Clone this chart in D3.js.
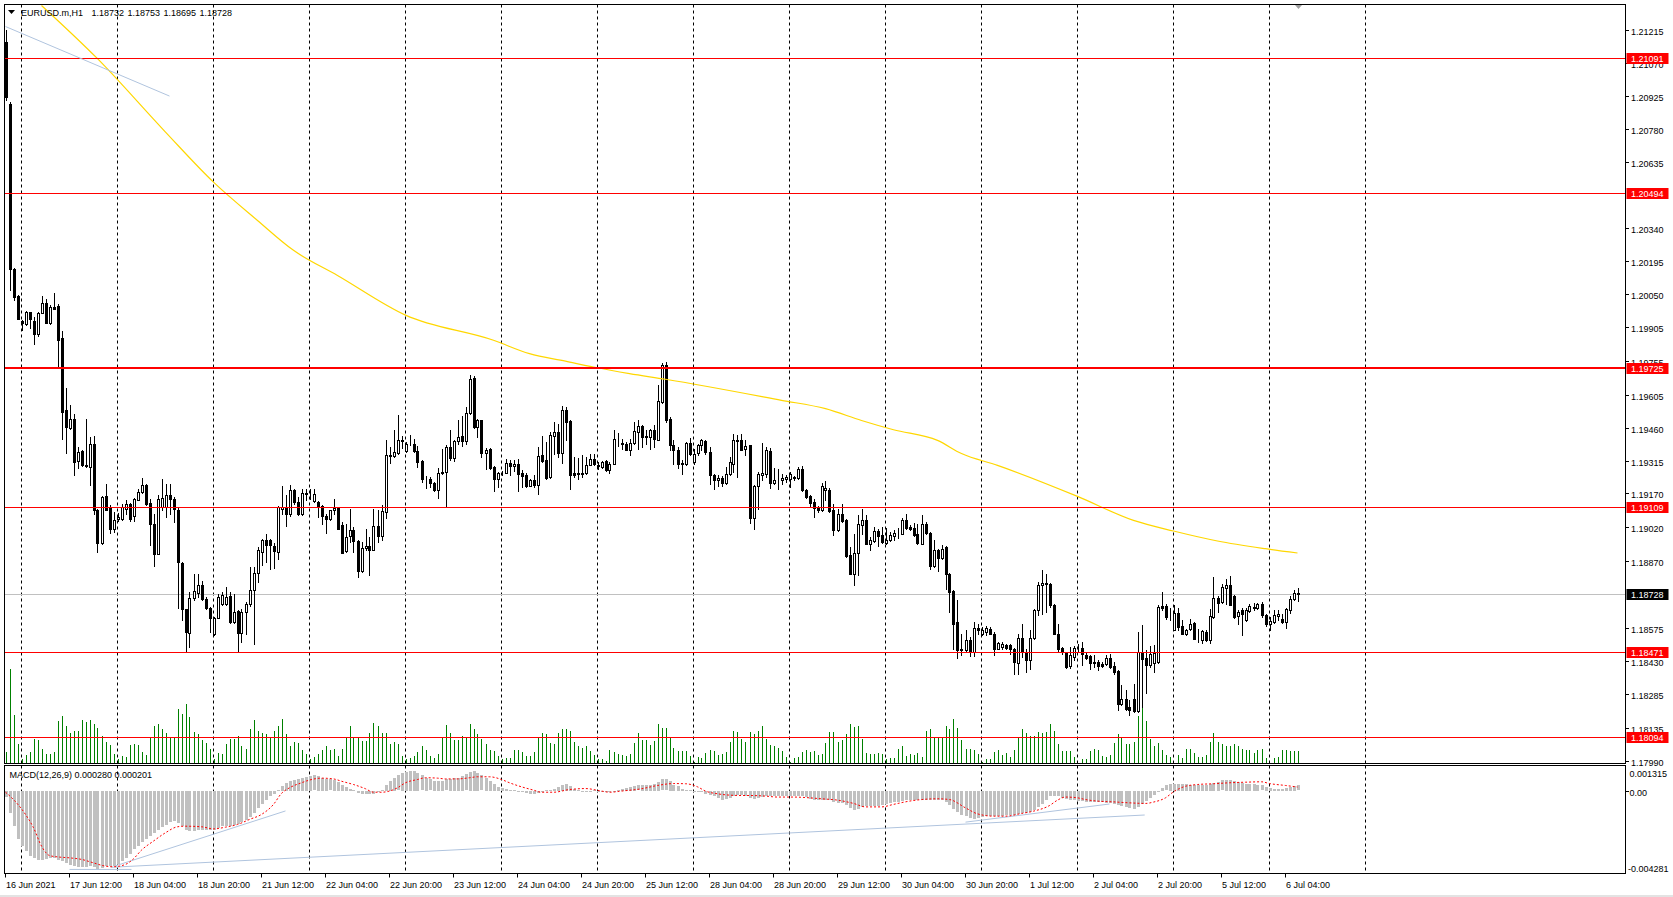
<!DOCTYPE html>
<html><head><meta charset="utf-8">
<script src="https://cdn.jsdelivr.net/npm/d3@7"></script>
<style>
html,body{margin:0;padding:0;background:#fff;overflow:hidden}
svg{display:block}
text{font-family:"Liberation Sans",Arial,sans-serif;font-size:9px;fill:#000}
</style></head><body>
<svg id="c" width="1673" height="897"></svg>
<script>
// ---------------- DATA ----------------
const symbolTitle = "EURUSD.m,H1";
const lastOHLC = ["1.18732","1.18753","1.18695","1.18728"];
const macdTitle = "MACD(12,26,9) 0.000280 0.000201";

const open = [
1.21161,1.20890,1.20159,1.20040,1.19930,1.19919,1.19969,1.19931,1.19872,1.19968,
1.20012,1.19924,1.19993,1.19999,1.19855,1.19537,1.19460,1.19500,1.19313,1.19356,
1.19297,1.19287,1.19390,1.19098,1.18951,1.19157,1.19110,1.19015,1.19058,1.19058,
1.19103,1.19122,1.19070,1.19143,1.19176,1.19209,1.19128,1.19037,1.18904,1.19110,
1.19110,1.19161,1.19147,1.19098,1.18865,1.18662,1.18556,1.18708,1.18731,1.18768,
1.18705,1.18664,1.18551,1.18622,1.18680,1.18680,1.18716,1.18603,1.18651,1.18556,
1.18647,1.18680,1.18742,1.18819,1.18912,1.18966,1.18963,1.18937,1.18912,1.19103,
1.19106,1.19081,1.19184,1.19132,1.19081,1.19169,1.19164,1.19137,1.19132,1.19115,
1.19070,1.19058,1.19096,1.19106,1.19030,1.18916,1.18981,1.19010,1.18959,1.18828,
1.18927,1.18937,1.18922,1.19025,1.18981,1.19088,1.19336,1.19336,1.19349,1.19402,
1.19358,1.19387,1.19387,1.19356,1.19312,1.19238,1.19235,1.19218,1.19184,1.19265,
1.19265,1.19375,1.19327,1.19402,1.19422,1.19402,1.19527,1.19681,1.19464,1.19493,
1.19349,1.19366,1.19287,1.19235,1.19258,1.19261,1.19306,1.19291,1.19302,1.19258,
1.19253,1.19203,1.19231,1.19206,1.19338,1.19316,1.19243,1.19424,1.19441,1.19349,
1.19540,1.19489,1.19258,1.19255,1.19262,1.19258,1.19297,1.19321,1.19297,1.19287,
1.19312,1.19272,1.19302,1.19410,1.19393,1.19390,1.19361,1.19394,1.19441,1.19466,
1.19424,1.19419,1.19452,1.19408,1.19574,1.19736,1.19500,1.19385,1.19363,1.19304,
1.19299,1.19394,1.19309,1.19349,1.19385,1.19402,1.19353,1.19253,1.19231,1.19240,
1.19216,1.19254,1.19301,1.19402,1.19407,1.19368,1.19382,1.19062,1.19201,1.19250,
1.19257,1.19357,1.19218,1.19228,1.19228,1.19232,1.19235,1.19241,1.19240,1.19279,
1.19187,1.19157,1.19132,1.19107,1.19096,1.19187,1.19187,1.19096,1.19007,1.19081,
1.19054,1.18897,1.18816,1.18907,1.19029,1.19051,1.18948,1.18959,1.19003,1.18988,
1.18951,1.18963,1.18981,1.18991,1.18993,1.19054,1.19022,1.19018,1.18993,1.18948,
1.19037,1.18997,1.18850,1.18919,1.18887,1.18934,1.18816,1.18738,1.18603,1.18481,
1.18478,1.18525,1.18470,1.18576,1.18551,1.18559,1.18573,1.18551,1.18485,1.18492,
1.18501,1.18499,1.18485,1.18421,1.18532,1.18470,1.18436,1.18533,1.18654,1.18764,
1.18774,1.18772,1.18676,1.18551,1.18488,1.18466,1.18407,1.18448,1.18487,1.18489,
1.18455,1.18451,1.18424,1.18426,1.18418,1.18416,1.18443,1.18407,1.18385,1.18239,
1.18264,1.18227,1.18264,1.18210,1.18470,1.18443,1.18411,1.18421,1.18426,1.18672,
1.18672,1.18639,1.18568,1.18642,1.18583,1.18551,1.18573,1.18598,1.18529,1.18524,
1.18558,1.18521,1.18624,1.18710,1.18691,1.18754,1.18764,1.18716,1.18627,1.18654,
1.18610,1.18651,1.18666,1.18666,1.18683,1.18632,1.18592,1.18602,1.18627,1.18617,
1.18602,1.18657,1.18705,1.18732];

const high = [
1.21214,1.20900,1.20165,1.20045,1.19935,1.19975,1.19972,1.19949,1.19969,1.20040,
1.20027,1.20000,1.20053,1.20008,1.19885,1.19637,1.19559,1.19522,1.19375,1.19360,
1.19500,1.19419,1.19422,1.19103,1.19157,1.19213,1.19118,1.19088,1.19084,1.19125,
1.19143,1.19128,1.19151,1.19191,1.19240,1.19213,1.19146,1.19081,1.19162,1.19235,
1.19213,1.19213,1.19154,1.19110,1.18868,1.18662,1.18735,1.18816,1.18813,1.18782,
1.18713,1.18669,1.18625,1.18727,1.18735,1.18757,1.18735,1.18727,1.18654,1.18662,
1.18691,1.18845,1.18845,1.18934,1.18970,1.18990,1.18969,1.18949,1.19113,1.19201,
1.19162,1.19206,1.19191,1.19154,1.19191,1.19191,1.19191,1.19191,1.19137,1.19118,
1.19081,1.19098,1.19147,1.19111,1.19044,1.19037,1.19103,1.19022,1.18963,1.18956,
1.19015,1.18978,1.19103,1.19096,1.19118,1.19405,1.19375,1.19452,1.19515,1.19422,
1.19397,1.19427,1.19412,1.19378,1.19316,1.19246,1.19243,1.19221,1.19284,1.19368,
1.19383,1.19452,1.19408,1.19493,1.19511,1.19552,1.19692,1.19687,1.19500,1.19496,
1.19372,1.19371,1.19290,1.19265,1.19267,1.19324,1.19316,1.19316,1.19324,1.19272,
1.19258,1.19235,1.19250,1.19375,1.19422,1.19397,1.19441,1.19486,1.19478,1.19555,
1.19552,1.19493,1.19331,1.19328,1.19338,1.19331,1.19346,1.19346,1.19309,1.19313,
1.19316,1.19309,1.19449,1.19437,1.19412,1.19397,1.19412,1.19486,1.19496,1.19471,
1.19452,1.19456,1.19471,1.19647,1.19746,1.19748,1.19507,1.19404,1.19375,1.19316,
1.19397,1.19416,1.19368,1.19390,1.19412,1.19404,1.19375,1.19257,1.19250,1.19246,
1.19287,1.19331,1.19434,1.19427,1.19431,1.19407,1.19385,1.19206,1.19265,1.19393,
1.19375,1.19372,1.19284,1.19279,1.19254,1.19250,1.19265,1.19249,1.19287,1.19290,
1.19191,1.19162,1.19147,1.19113,1.19216,1.19225,1.19196,1.19125,1.19103,1.19125,
1.19059,1.18934,1.18993,1.19073,1.19103,1.19073,1.18978,1.19022,1.19015,1.19022,
1.19019,1.19000,1.19007,1.19018,1.19063,1.19081,1.19029,1.19040,1.19034,1.19073,
1.19044,1.19000,1.18963,1.18926,1.18941,1.18937,1.18819,1.18743,1.18698,1.18551,
1.18566,1.18537,1.18603,1.18595,1.18581,1.18584,1.18581,1.18559,1.18514,1.18514,
1.18507,1.18504,1.18488,1.18551,1.18595,1.18485,1.18566,1.18661,1.18779,1.18833,
1.18816,1.18775,1.18683,1.18592,1.18492,1.18470,1.18492,1.18495,1.18507,1.18514,
1.18466,1.18455,1.18455,1.18433,1.18426,1.18455,1.18463,1.18426,1.18389,1.18323,
1.18301,1.18260,1.18330,1.18558,1.18588,1.18477,1.18495,1.18499,1.18676,1.18735,
1.18683,1.18666,1.18676,1.18666,1.18613,1.18573,1.18617,1.18602,1.18573,1.18569,
1.18566,1.18661,1.18801,1.18716,1.18772,1.18794,1.18804,1.18720,1.18654,1.18666,
1.18666,1.18683,1.18686,1.18686,1.18691,1.18636,1.18624,1.18657,1.18654,1.18639,
1.18666,1.18716,1.18745,1.18753];

const low = [
1.20905,1.20069,1.20025,1.19938,1.19890,1.19915,1.19902,1.19828,1.19864,1.19966,
1.19921,1.19917,1.19983,1.19728,1.19412,1.19350,1.19456,1.19250,1.19282,1.19290,
1.19287,1.19206,1.19081,1.18911,1.18948,1.19096,1.18995,1.19000,1.19048,1.19054,
1.19081,1.19048,1.19048,1.19140,1.19172,1.19118,1.18941,1.18848,1.18901,1.19096,
1.19066,1.19081,1.19044,1.18666,1.18610,1.18470,1.18492,1.18701,1.18713,1.18699,
1.18659,1.18558,1.18544,1.18618,1.18676,1.18676,1.18596,1.18596,1.18470,1.18514,
1.18551,1.18673,1.18507,1.18779,1.18852,1.18868,1.18838,1.18841,1.18882,1.19081,
1.19027,1.19069,1.19125,1.19074,1.19077,1.19143,1.19147,1.19132,1.19066,1.19034,
1.18995,1.19054,1.19081,1.19012,1.18905,1.18912,1.18956,1.18912,1.18802,1.18824,
1.18919,1.18809,1.18919,1.18956,1.18963,1.19063,1.19305,1.19331,1.19346,1.19372,
1.19353,1.19383,1.19353,1.19287,1.19221,1.19196,1.19199,1.19181,1.19152,1.19255,
1.19111,1.19319,1.19313,1.19387,1.19378,1.19390,1.19522,1.19461,1.19419,1.19331,
1.19280,1.19280,1.19181,1.19199,1.19252,1.19258,1.19250,1.19269,1.19181,1.19199,
1.19199,1.19202,1.19199,1.19166,1.19309,1.19235,1.19240,1.19346,1.19331,1.19305,
1.19405,1.19191,1.19243,1.19235,1.19243,1.19255,1.19294,1.19294,1.19280,1.19284,
1.19269,1.19258,1.19299,1.19378,1.19368,1.19361,1.19338,1.19390,1.19368,1.19375,
1.19390,1.19368,1.19375,1.19405,1.19569,1.19485,1.19360,1.19301,1.19282,1.19254,
1.19294,1.19341,1.19301,1.19341,1.19360,1.19346,1.19213,1.19191,1.19202,1.19202,
1.19210,1.19250,1.19265,1.19243,1.19360,1.19338,1.19040,1.19015,1.19103,1.19228,
1.19243,1.19196,1.19213,1.19191,1.19210,1.19221,1.19199,1.19231,1.19235,1.19181,
1.19150,1.19113,1.19066,1.19088,1.19093,1.19140,1.19088,1.18985,1.19004,1.19044,
1.18890,1.18813,1.18768,1.18809,1.18993,1.18945,1.18922,1.18956,1.18937,1.18951,
1.18948,1.18960,1.18963,1.18975,1.18990,1.19015,1.19007,1.18981,1.18945,1.18945,
1.18993,1.18838,1.18845,1.18828,1.18882,1.18750,1.18647,1.18485,1.18445,1.18456,
1.18475,1.18451,1.18451,1.18551,1.18544,1.18544,1.18548,1.18456,1.18482,1.18485,
1.18482,1.18463,1.18374,1.18371,1.18448,1.18382,1.18396,1.18529,1.18635,1.18636,
1.18646,1.18669,1.18548,1.18474,1.18463,1.18401,1.18401,1.18433,1.18470,1.18411,
1.18441,1.18396,1.18404,1.18392,1.18404,1.18411,1.18401,1.18374,1.18213,1.18235,
1.18215,1.18193,1.18205,1.18205,1.18227,1.18289,1.18404,1.18382,1.18421,1.18657,
1.18617,1.18610,1.18566,1.18566,1.18548,1.18543,1.18569,1.18526,1.18514,1.18510,
1.18518,1.18510,1.18621,1.18646,1.18686,1.18683,1.18676,1.18621,1.18592,1.18544,
1.18607,1.18646,1.18657,1.18661,1.18624,1.18583,1.18566,1.18598,1.18610,1.18598,
1.18577,1.18642,1.18701,1.18695];

const close = [
1.20919,1.20162,1.20037,1.19941,1.19921,1.19970,1.19941,1.19875,1.19968,1.20012,
1.19924,1.19993,1.19986,1.19849,1.19529,1.19463,1.19500,1.19309,1.19353,1.19294,
1.19293,1.19386,1.19098,1.18951,1.19154,1.19098,1.19015,1.19051,1.19066,1.19110,
1.19122,1.19058,1.19147,1.19176,1.19209,1.19125,1.19037,1.18901,1.19147,1.19151,
1.19161,1.19147,1.19103,1.18868,1.18662,1.18558,1.18708,1.18738,1.18768,1.18705,
1.18664,1.18622,1.18622,1.18713,1.18720,1.18713,1.18603,1.18647,1.18556,1.18647,
1.18680,1.18742,1.18819,1.18919,1.18966,1.18941,1.18941,1.18915,1.19110,1.19110,
1.19081,1.19184,1.19132,1.19081,1.19172,1.19172,1.19162,1.19169,1.19113,1.19069,
1.19058,1.19096,1.19107,1.19015,1.18909,1.18978,1.19010,1.18960,1.18828,1.18927,
1.18937,1.18919,1.19025,1.18981,1.19091,1.19338,1.19341,1.19352,1.19405,1.19408,
1.19387,1.19390,1.19358,1.19309,1.19235,1.19237,1.19216,1.19184,1.19258,1.19261,
1.19375,1.19327,1.19400,1.19419,1.19402,1.19527,1.19677,1.19464,1.19493,1.19349,
1.19363,1.19283,1.19235,1.19258,1.19261,1.19306,1.19291,1.19302,1.19255,1.19247,
1.19203,1.19231,1.19206,1.19334,1.19313,1.19240,1.19427,1.19441,1.19349,1.19537,
1.19486,1.19250,1.19250,1.19261,1.19255,1.19297,1.19321,1.19302,1.19290,1.19309,
1.19272,1.19302,1.19412,1.19409,1.19390,1.19363,1.19394,1.19444,1.19466,1.19419,
1.19421,1.19449,1.19412,1.19577,1.19736,1.19493,1.19382,1.19360,1.19301,1.19299,
1.19394,1.19346,1.19346,1.19382,1.19404,1.19353,1.19253,1.19231,1.19240,1.19216,
1.19254,1.19309,1.19407,1.19407,1.19363,1.19378,1.19062,1.19201,1.19254,1.19260,
1.19360,1.19218,1.19231,1.19229,1.19240,1.19241,1.19257,1.19238,1.19279,1.19184,
1.19154,1.19128,1.19107,1.19098,1.19201,1.19196,1.19093,1.19007,1.19081,1.19048,
1.18893,1.18816,1.18907,1.19037,1.19051,1.18948,1.18963,1.19003,1.18981,1.18956,
1.18963,1.18985,1.18996,1.18993,1.19054,1.19019,1.19015,1.18985,1.18951,1.19037,
1.18997,1.18850,1.18919,1.18887,1.18926,1.18816,1.18735,1.18595,1.18478,1.18484,
1.18522,1.18470,1.18578,1.18569,1.18566,1.18576,1.18551,1.18485,1.18510,1.18507,
1.18486,1.18485,1.18426,1.18533,1.18470,1.18436,1.18533,1.18657,1.18764,1.18776,
1.18769,1.18676,1.18551,1.18485,1.18470,1.18404,1.18455,1.18489,1.18489,1.18460,
1.18445,1.18421,1.18421,1.18408,1.18408,1.18443,1.18404,1.18382,1.18239,1.18264,
1.18220,1.18215,1.18210,1.18470,1.18441,1.18411,1.18463,1.18466,1.18669,1.18666,
1.18624,1.18638,1.18642,1.18580,1.18551,1.18566,1.18595,1.18529,1.18526,1.18561,
1.18521,1.18627,1.18710,1.18686,1.18757,1.18764,1.18676,1.18624,1.18646,1.18636,
1.18654,1.18672,1.18670,1.18683,1.18632,1.18592,1.18607,1.18632,1.18636,1.18602,
1.18661,1.18705,1.18730,1.18728];

// tick volume
const volume = [
1200,9500,4900,2000,400,900,1200,2500,2400,1500,
1000,1000,1200,4300,4800,3800,3100,3300,3300,4400,
4200,4400,4000,3600,2800,2200,1900,1000,400,800,
600,1900,2000,1900,1200,900,2600,3800,4000,3400,
3100,2600,2600,5500,5000,6000,4700,3200,2900,2400,
2100,1500,400,1100,1000,2000,2500,2500,2800,1700,
1500,3500,4400,3300,3000,2900,2700,3300,3800,4500,
2900,1800,2200,2100,1400,1000,400,700,1000,1400,
1800,1400,1500,800,1500,2700,3800,2700,2600,2300,
2300,3000,4100,3800,3000,3000,2000,2200,2000,800,
400,500,800,1200,1800,1400,800,500,1000,2600,
3900,3000,2400,2400,2800,2600,4000,3500,2900,2500,
2000,1400,1300,800,400,500,500,1400,1400,1200,
800,800,1200,2600,3000,2900,2100,2000,3000,3500,
3400,3300,2200,1800,1600,1700,1300,900,400,400,
300,1400,1200,1000,900,800,1000,2100,3100,2400,
2400,1900,2300,4000,3600,3600,2600,1600,1300,1300,
1300,800,200,600,500,1100,1400,1300,900,1000,
1200,2200,3300,3200,2500,2200,3200,2900,3300,3800,
2500,1900,1700,1600,1300,600,200,500,600,1200,
1400,1200,1300,900,1000,2100,3200,3200,2200,2400,
2900,4000,3700,3800,2500,1100,1000,1000,1100,1000,
400,500,500,1500,1700,800,1000,900,1100,700,
3300,3400,2700,2600,2600,3800,3500,4500,3600,2400,
1500,1500,1400,1000,200,400,400,1200,1400,900,
1100,600,1400,2600,3400,3000,2800,2800,3200,3000,
3200,4000,3300,2000,1300,1300,1300,600,100,400,
400,1300,1500,1400,800,700,900,2100,2900,2600,
2000,2000,2200,4800,5600,4300,2500,1700,2100,1400,
900,700,100,900,500,1500,1500,1100,600,600,
900,2200,3000,2200,2000,1800,1800,2000,1800,1500,
1400,1400,1100,1400,1500,500,100,500,600,1400,
1400,1300,1300,1300];

// MACD main (histogram), in units of 0.00001
const macdMainE5 = [
-30,-114,-183,-248,-286,-312,-335,-347,-355,-355,
-352,-347,-347,-355,-364,-373,-381,-390,-393,-393,
-393,-390,-393,-404,-399,-390,-390,-387,-376,-364,
-347,-324,-300,-283,-266,-248,-231,-217,-200,-186,
-174,-162,-157,-165,-183,-200,-209,-209,-203,-200,
-200,-200,-200,-191,-183,-179,-179,-174,-169,-162,
-152,-134,-114,-88,-65,-45,-27,-13,7,25,
42,50,56,62,68,73,76,80,76,68,
62,59,56,45,33,21,11,4,-10,-13,
-15,-15,-13,-7,4,33,50,68,80,94,
97,102,102,94,80,68,59,50,50,50,
59,62,68,68,76,85,97,102,94,80,
68,50,37,21,16,11,7,4,-1,-7,
-10,-13,-15,-10,-1,4,7,11,21,33,
38,24,11,4,-1,-1,-1,4,-1,-6,
-6,-6,-1,7,11,16,21,24,28,31,
33,33,38,45,59,59,50,33,24,11,
7,7,-1,-7,-7,-13,-19,-27,-36,-45,
-41,-36,-27,-19,-19,-24,-36,-41,-36,-31,
-27,-27,-27,-27,-27,-27,-27,-24,-24,-27,
-32,-41,-48,-48,-45,-45,-48,-58,-62,-62,
-71,-88,-96,-93,-83,-79,-79,-76,-76,-71,
-65,-62,-58,-58,-53,-48,-45,-45,-45,-45,
-45,-45,-48,-48,-45,-58,-71,-93,-110,-122,
-131,-140,-145,-140,-134,-131,-131,-127,-127,-127,
-124,-122,-122,-117,-114,-114,-110,-96,-83,-65,
-45,-27,-24,-27,-36,-41,-45,-48,-53,-53,
-58,-58,-58,-58,-58,-62,-62,-65,-70,-76,
-83,-88,-93,-83,-65,-53,-36,-19,-1,16,
28,37,38,38,37,37,33,33,31,31,
33,37,42,47,54,57,56,50,47,42,
38,37,37,33,28,21,16,11,11,11,
14,19,24,28];

// MACD signal line, read at these bars (units of 0.00001)
const signalIdx = [0,2,5,7,9,11,13,16,19,22,25,27,30,32,34,37,40,43,45,49,52,55,58,61,64,67,69,71,74,76,79,82,84,87,90,92,94,96,98,100,103,105,108,110,113,116,118,121,124,126,129,132,134,137,141,145,149,151,154,159,163,167,170,173,175,178,181,184,186,190,193,197,201,204,208,212,215,219,222,226,229,233,236,240,243,247,250,254,257,261,263,265,268,270,273,277,281,285,287,290,292,295,298,302,306,310,314,316,320,323];
const signalE5 = [-7,-45,-122,-191,-286,-335,-342,-347,-355,-373,-390,-393,-381,-352,-307,-260,-217,-186,-183,-186,-197,-188,-174,-148,-122,-70,-13,16,42,56,66,62,50,33,11,-7,-7,-1,16,42,59,68,66,62,62,68,73,73,59,42,21,4,-7,-7,7,12,-1,-7,-1,11,28,38,37,21,-1,-15,-22,-24,-24,-27,-32,-32,-36,-41,-48,-65,-83,-83,-70,-53,-45,-41,-45,-88,-119,-131,-131,-117,-105,-76,-48,-32,-36,-45,-53,-57,-62,-65,-58,-36,-5,24,33,37,42,45,47,38,28,20];

// Moving average (yellow), read at these bars
const maIdx = [9,23,40,52,63,72,83,100,122,131,140,147,156,165,194,205,214,222,233,239,248,268,282,292,303,315,323];
const maVal = [1.21324,1.21089,1.20765,1.20544,1.20375,1.20243,1.20132,1.19957,1.19846,1.19787,1.19754,1.19728,1.19699,1.19674,1.19581,1.19544,1.19492,1.19451,1.19404,1.19346,1.19294,1.19157,1.19051,1.19004,1.18960,1.18926,1.18907];

// horizontal levels (price)
const levels = [1.21091,1.20494,1.19725,1.19109,1.18471,1.18094];
const currentPrice = 1.18728;

// price axis tick labels
const priceTicks = [1.21215,1.21070,1.20925,1.20780,1.20635,1.20340,1.20195,1.20050,1.19905,1.19755,1.19605,1.19460,1.19315,1.19170,1.19020,1.18870,1.18575,1.18430,1.18285,1.18135,1.17990];
const macdTicks = [0.001315,0.0,-0.004281];
const macdTickLabels = ["0.001315","0.00","-0.004281"];

// time axis
const timeTickIdx = [0,16,32,48,64,80,96,112,128,144,160,176,192,208,224,240,256,272,288,304,320];
const timeTickLabels = ["16 Jun 2021","17 Jun 12:00","18 Jun 04:00","18 Jun 20:00","21 Jun 12:00","22 Jun 04:00","22 Jun 20:00","23 Jun 12:00","24 Jun 04:00","24 Jun 20:00","25 Jun 12:00","28 Jun 04:00","28 Jun 20:00","29 Jun 12:00","30 Jun 04:00","30 Jun 20:00","1 Jul 12:00","2 Jul 04:00","2 Jul 20:00","5 Jul 12:00","6 Jul 04:00"];
// day separators (bar index of 00:00 each trading day)
const dayGridIdx = [4,28,52,76,100,124,148,172,196,220,244,268,292,316,340];

// trend lines [bar, value]
const trendMain = [[[0,1.21231],[41,1.20924]]];
const trendMacd = [
  [[16,-0.00407],[31.5,-0.00407]],
  [[27.4,-0.00389],[70,-0.00104]],
  [[26.3,-0.00396],[284.8,-0.00125]],
  [[240,-0.00162],[276,-0.00068]]
];

// ---------------- DRAW ----------------
const svg = d3.select("#c");
const L = 4.5, R = 1625.5, mTop = 4.5, mBot = 763.5, dTop = 765.5, dBot = 873.5;

const x = d3.scaleLinear().domain([0, 340]).range([5.5, 1365.5]);
const y = d3.scaleLinear().domain([1.17977, 1.21326]).range([763.7, 5]);
const yv = d3.scaleLinear().domain([0, 10000]).range([763.5, 663.5]);
const ym = d3.scaleLinear().domain([-0.004281, 0.001315]).range([873.5, 765.5]);
const px = i => Math.round(x(i));

const defs = svg.append("defs");
defs.append("clipPath").attr("id","clipMain").append("rect").attr("x",L).attr("y",mTop).attr("width",R-L).attr("height",mBot-mTop);
defs.append("clipPath").attr("id","clipMacd").append("rect").attr("x",L).attr("y",dTop).attr("width",R-L).attr("height",dBot-dTop);

const gMain = svg.append("g").attr("clip-path","url(#clipMain)");
const gMacd = svg.append("g").attr("clip-path","url(#clipMacd)");

// day grid (dashed)
dayGridIdx.forEach(d => {
  const gx = Math.floor(x(d)) + 0.5;
  gMain.append("line").attr("x1",gx).attr("x2",gx).attr("y1",mTop).attr("y2",mBot)
    .attr("stroke","#000").attr("stroke-width",1).attr("stroke-dasharray","3,3");
  gMacd.append("line").attr("x1",gx).attr("x2",gx).attr("y1",dTop).attr("y2",dBot)
    .attr("stroke","#000").attr("stroke-width",1).attr("stroke-dasharray","3,3");
});

// volumes
gMain.append("g").selectAll("line").data(volume).join("line")
  .attr("x1",(d,i)=>px(i)+0.5).attr("x2",(d,i)=>px(i)+0.5)
  .attr("y1",yv(0)).attr("y2",d=>Math.round(yv(d)))
  .attr("stroke","#008000").attr("stroke-width",1);

// current price line
gMain.append("line").attr("x1",L).attr("x2",R)
  .attr("y1",Math.round(y(currentPrice))+0.5).attr("y2",Math.round(y(currentPrice))+0.5)
  .attr("stroke","#C0C0C0").attr("stroke-width",1);

// candles
const cg = gMain.append("g");
close.forEach((c, i) => {
  const o = open[i], cx = px(i);
  cg.append("line").attr("x1",cx+0.5).attr("x2",cx+0.5)
    .attr("y1",Math.round(y(high[i]))).attr("y2",Math.round(y(low[i]))+1)
    .attr("stroke","#000").attr("stroke-width",1);
  const top = Math.round(y(Math.max(o,c))) + 0.5;
  const bot = Math.round(y(Math.min(o,c))) + 0.5;
  const bull = c >= o;
  cg.append("rect").attr("x",cx-0.5).attr("y",top).attr("width",2).attr("height",Math.max(bot-top,0))
    .attr("fill", bull ? "#fff" : "#000").attr("stroke","#000").attr("stroke-width",1);
});

// moving average
gMain.append("path")
  .datum(maIdx.map((d,k)=>[d,maVal[k]]))
  .attr("d", d3.line().x(d=>x(d[0])).y(d=>y(d[1])).curve(d3.curveMonotoneX))
  .attr("fill","none").attr("stroke","#FFD700").attr("stroke-width",1.2);

// horizontal levels
levels.forEach(v => {
  const ly = Math.round(y(v)) + (v === 1.19725 ? 0 : 0.5);
  gMain.append("line").attr("x1",L).attr("x2",R).attr("y1",ly).attr("y2",ly)
    .attr("stroke","#FF0000").attr("stroke-width", v === 1.19725 ? 2 : 1);
});

// trend lines
trendMain.forEach(t => {
  gMain.append("line").attr("x1",x(t[0][0])).attr("y1",y(t[0][1])).attr("x2",x(t[1][0])).attr("y2",y(t[1][1]))
    .attr("stroke","#B0C4DE").attr("stroke-width",1);
});

// MACD histogram
gMacd.append("g").selectAll("rect").data(macdMainE5).join("rect")
  .attr("x",(d,i)=>px(i)-1).attr("width",3)
  .attr("y",d=>Math.round(Math.min(ym(d*1e-5), ym(0))))
  .attr("height",d=>Math.max(1, Math.round(Math.abs(ym(d*1e-5)-ym(0)))))
  .attr("fill","#C0C0C0");

trendMacd.forEach(t => {
  gMacd.append("line").attr("x1",x(t[0][0])).attr("y1",ym(t[0][1])).attr("x2",x(t[1][0])).attr("y2",ym(t[1][1]))
    .attr("stroke","#B0C4DE").attr("stroke-width",1);
});

gMacd.append("path")
  .datum(signalIdx.map((d,k)=>[d,signalE5[k]*1e-5]))
  .attr("d", d3.line().x(d=>x(d[0])).y(d=>ym(d[1])).curve(d3.curveMonotoneX))
  .attr("fill","none").attr("stroke","#FF0000").attr("stroke-width",1).attr("stroke-dasharray","2,2");

// frames
svg.append("rect").attr("x",L).attr("y",mTop).attr("width",R-L).attr("height",mBot-mTop)
  .attr("fill","none").attr("stroke","#000");
svg.append("rect").attr("x",L).attr("y",dTop).attr("width",R-L).attr("height",dBot-dTop)
  .attr("fill","none").attr("stroke","#000");

// chart shift marker
svg.append("path").attr("d","M1295,5 L1302,5 L1298.5,9 Z").attr("fill","#A0A0A0");

// header
svg.append("path").attr("d","M8,10 L15,10 L11.5,14 Z").attr("fill","#000");
svg.append("text").attr("x",21).attr("y",16).text(symbolTitle);
lastOHLC.forEach((t,k)=>svg.append("text").attr("x",91.5+36*k).attr("y",16).text(t));
svg.append("text").attr("x",9.5).attr("y",777.5).text(macdTitle);

// price axis
const ax = svg.append("g");
priceTicks.forEach(v => {
  const ty = Math.round(y(v)) + 0.5;
  ax.append("line").attr("x1",R).attr("x2",R+3.5).attr("y1",ty).attr("y2",ty).attr("stroke","#000");
  ax.append("text").attr("x",1631).attr("y",ty+4).text(v.toFixed(5));
});
// level tags
function tag(v, col) {
  const ty = Math.round(y(v)) + 0.5;
  ax.append("rect").attr("x",R+1).attr("y",ty-5.5).attr("width",42).attr("height",11).attr("fill",col);
  ax.append("text").attr("x",1631).attr("y",ty+3.5).style("fill","#fff").text(v.toFixed(5));
}
levels.forEach(v => tag(v, "#FF0000"));
tag(currentPrice, "#000");

// MACD axis
macdTicks.forEach((v,k) => {
  const ty = Math.round(ym(v)) + 0.5;
  let tyText = ty + 4;
  if (k === 0) tyText = ty + 10.5;
  if (k === 2) tyText = ty - 2.5;
  if (k === 1) ax.append("line").attr("x1",R).attr("x2",R+3.5).attr("y1",ty).attr("y2",ty).attr("stroke","#000");
  ax.append("text").attr("x", k===2 ? 1628 : 1629.5).attr("y",tyText).text(macdTickLabels[k]);
});

// time axis
timeTickIdx.forEach((d,k) => {
  const tx = Math.floor(x(d)) + 0.5;
  ax.append("line").attr("x1",tx).attr("x2",tx).attr("y1",dBot).attr("y2",dBot+4).attr("stroke","#000");
  ax.append("text").attr("x",tx+0.5).attr("y",887.5).text(timeTickLabels[k]);
});

// bottom window strip
svg.append("rect").attr("x",0).attr("y",895).attr("width",1673).attr("height",2).attr("fill","#E3E3E3");
</script>
</body></html>
